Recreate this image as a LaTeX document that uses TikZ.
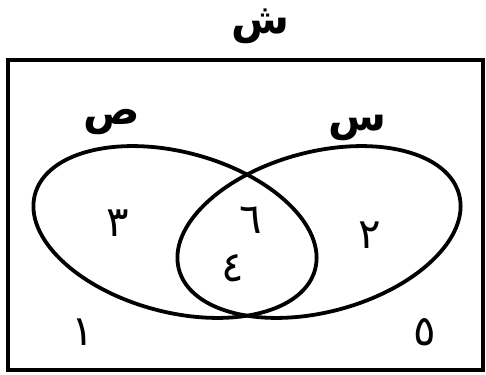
\documentclass[tikz,border=0pt]{standalone}
\usepackage{fontspec}
\newfontfamily\arabicfont[Script=Arabic]{DejaVu Sans}
\TeXXeTstate=1
\begin{document}
\begin{tikzpicture}[x=1pt,y=-1pt,
  lbl/.style={inner sep=0pt,font=\arabicfont\bfseries\fontsize{42}{44}\selectfont},
  num/.style={inner sep=0pt,font=\arabicfont\fontsize{42}{44}\selectfont},
  setline/.style={line width=3.8pt},
  frame/.style={line width=4.5pt}]
\useasboundingbox (0,0) rectangle (486,374);
\draw[frame] (8,60) rectangle (483,370);
\draw[setline, rotate around={-15:(175,232)}] (175,232) ellipse [x radius=145pt, y radius=80pt];
\draw[setline, rotate around={15:(319,232)}] (319,232) ellipse [x radius=145pt, y radius=80pt];
\node[lbl] (title) at (260,26) {\beginR ش\endR};
\node[lbl] (labA) at (112,122) {\beginR ص\endR};
\node[lbl] (labB) at (357,128) {\beginR س\endR};
\node[num] (n3) at (118,223) {\beginR ٣\endR};
\node[num] (n2) at (370,235) {\beginR ٢\endR};
\node[num] (n6) at (251,220) {\beginR ٦\endR};
\node[num] (n4) at (233,268) {\beginR ٤\endR};
\node[num] (n1) at (83,332) {\beginR ١\endR};
\node[num] (n5) at (425,332) {\beginR ٥\endR};
\end{tikzpicture}
\end{document}
